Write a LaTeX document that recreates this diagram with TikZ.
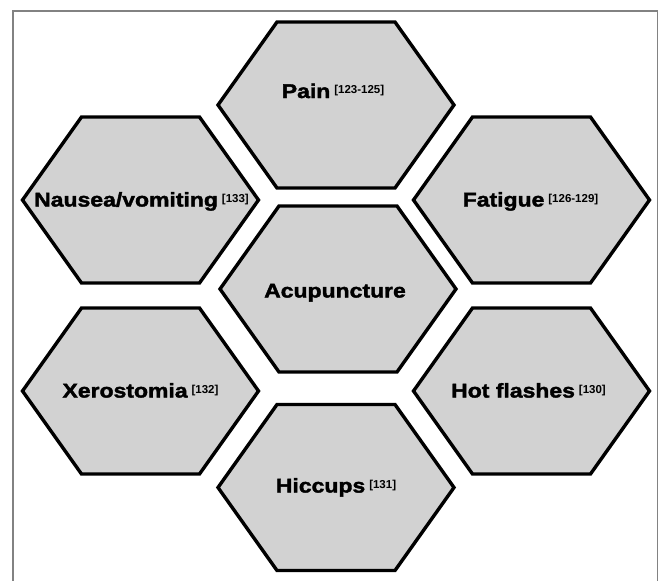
\documentclass[tikz,border=0pt]{standalone}
\usepackage{fontspec}
\usetikzlibrary{calc}
\setmainfont{Liberation Sans}
\newfontfamily\hexfont{Liberation Sans}[FakeStretch=1.16,FakeBold=2]
\newfontfamily\supfont{Liberation Sans}
\definecolor{hexfill}{RGB}{210,210,210}
\definecolor{framegray}{RGB}{130,130,130}
\newcommand\refs[1]{\hspace{4pt}\raisebox{4.5pt}{\supfont\fontsize{11.5}{13}\selectfont[#1]}}
\begin{document}
\begin{tikzpicture}[x=1pt,y=-1pt,
  hexbox/.style={draw=black,line width=3.4pt,fill=hexfill,line join=miter},
  hexlabel/.style={anchor=base,inner sep=0pt,font=\hexfont\bfseries\fontsize{19.8}{22}\selectfont},
  framebox/.style={draw=framegray,line width=1.6pt}]
\useasboundingbox (0,0) rectangle (659,581);
% frame (bottom edge lies outside the picture)
\draw[framebox] (13,600) -- (13,11) -- (657.5,11) -- (657.5,600);
% hexagon centres
\coordinate (cPain) at (336,105);
\coordinate (cNau) at (140.5,200);
\coordinate (cFat) at (531.5,200);
\coordinate (cAcu) at (338,289);
\coordinate (cXer) at (140.5,391);
\coordinate (cHot) at (531.5,391);
\coordinate (cHic) at (336,487.5);
\foreach \c in {cPain,cNau,cFat,cAcu,cXer,cHot,cHic}{
  \draw[hexbox] (\c) ++(-118,0) -- ++(59,-83) -- ++(118,0) -- ++(59,83)
     -- ++(-59,83) -- ++(-118,0) -- cycle;
}
% labels
\node[hexlabel] (pain) at ($(cPain)+(-3,-7)$) {Pain\refs{123-125}};
\node[hexlabel] (nau) at ($(cNau)+(1,6.5)$) {Nausea/vomiting\refs{133}};
\node[hexlabel] (fat) at ($(cFat)+(-1,6.5)$) {Fatigue\refs{126-129}};
\node[hexlabel] (acu) at ($(cAcu)+(-3,8.5)$) {Acupuncture};
\node[hexlabel] (xer) at ($(cXer)+(0,6.5)$) {Xerostomia\refs{132}};
\node[hexlabel] (hot) at ($(cHot)+(-3,6.5)$) {Hot flashes\refs{130}};
\node[hexlabel] (hic) at ($(cHic)+(0,5)$) {Hiccups\refs{131}};
\end{tikzpicture}
\end{document}
